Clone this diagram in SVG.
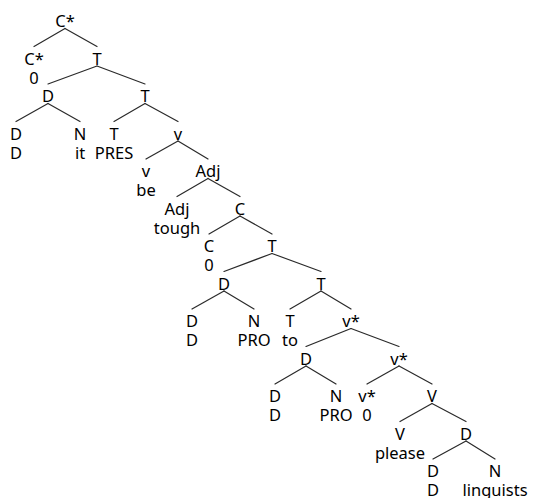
<svg xmlns="http://www.w3.org/2000/svg" width="533" height="498" viewBox="0 0 533 498">
  <style>
    text { font-family: "Noto Sans", "DejaVu Sans", sans-serif; font-size: 16.5px; fill: #000; text-anchor: middle; }
    .edges line { stroke: #2a2a2a; stroke-width: 1.2; stroke-linecap: round; }
  </style>
  <rect width="533" height="498" fill="#fff"/>

  <!-- branches: parent (x, baseline+1.5) to child (x, baseline-18) -->
  <g id="edges" class="edges">
    <line x1="65" y1="28.5" x2="34" y2="46.5"/>
    <line x1="65" y1="28.5" x2="97" y2="46.5"/>
    <line x1="97" y1="66" x2="48" y2="84"/>
    <line x1="97" y1="66" x2="145" y2="84"/>
    <line x1="48" y1="103.5" x2="16" y2="121.5"/>
    <line x1="48" y1="103.5" x2="80" y2="121.5"/>
    <line x1="145" y1="103.5" x2="114" y2="121.5"/>
    <line x1="145" y1="103.5" x2="178" y2="121.5"/>
    <line x1="178" y1="141" x2="146" y2="159"/>
    <line x1="178" y1="141" x2="208" y2="159"/>
    <line x1="208" y1="178.5" x2="177" y2="196.5"/>
    <line x1="208" y1="178.5" x2="240" y2="196.5"/>
    <line x1="240" y1="216" x2="209" y2="234"/>
    <line x1="240" y1="216" x2="272" y2="234"/>
    <line x1="272" y1="253.5" x2="224" y2="271.5"/>
    <line x1="272" y1="253.5" x2="321" y2="271.5"/>
    <line x1="224" y1="291" x2="192" y2="309"/>
    <line x1="224" y1="291" x2="254" y2="309"/>
    <line x1="321" y1="291" x2="290" y2="309"/>
    <line x1="321" y1="291" x2="351" y2="309"/>
    <line x1="351" y1="328.5" x2="306" y2="346.5"/>
    <line x1="351" y1="328.5" x2="399" y2="346.5"/>
    <line x1="306" y1="366" x2="275" y2="384"/>
    <line x1="306" y1="366" x2="336" y2="384"/>
    <line x1="399" y1="366" x2="367" y2="384"/>
    <line x1="399" y1="366" x2="432" y2="384"/>
    <line x1="432" y1="403.5" x2="400" y2="421.5"/>
    <line x1="432" y1="403.5" x2="466" y2="421.5"/>
    <line x1="466" y1="441" x2="433" y2="459"/>
    <line x1="466" y1="441" x2="495" y2="459"/>
  </g>

  <g id="n-cstar-root"><text x="65" y="27">C*</text></g>
  <g id="n-cstar-head"><text x="34" y="64.5">C*</text><text x="34" y="83.5">0</text></g>
  <g id="n-t1"><text x="97" y="64.5">T</text></g>
  <g id="n-d2"><text x="48" y="102">D</text></g>
  <g id="n-t2"><text x="145" y="102">T</text></g>
  <g id="n-d3"><text x="16" y="139.5">D</text><text x="16" y="158.5">D</text></g>
  <g id="n-n3"><text x="80" y="139.5">N</text><text x="80" y="158.5">it</text></g>
  <g id="n-t3"><text x="114" y="139.5">T</text><text x="114" y="158.5">PRES</text></g>
  <g id="n-v3"><text x="178" y="139.5">v</text></g>
  <g id="n-v4"><text x="146" y="177">v</text><text x="146" y="196">be</text></g>
  <g id="n-adj4"><text x="208" y="177">Adj</text></g>
  <g id="n-adj5"><text x="177" y="214.5">Adj</text><text x="177" y="233.5">tough</text></g>
  <g id="n-c5"><text x="240" y="214.5">C</text></g>
  <g id="n-c6"><text x="209" y="252">C</text><text x="209" y="271">0</text></g>
  <g id="n-t6"><text x="272" y="252">T</text></g>
  <g id="n-d7"><text x="224" y="289.5">D</text></g>
  <g id="n-t7"><text x="321" y="289.5">T</text></g>
  <g id="n-d8"><text x="192" y="327">D</text><text x="192" y="346">D</text></g>
  <g id="n-n8"><text x="254" y="327">N</text><text x="254" y="346">PRO</text></g>
  <g id="n-t8"><text x="290" y="327">T</text><text x="290" y="346">to</text></g>
  <g id="n-vstar8"><text x="351" y="327">v*</text></g>
  <g id="n-d9"><text x="306" y="364.5">D</text></g>
  <g id="n-vstar9"><text x="399" y="364.5">v*</text></g>
  <g id="n-d10"><text x="275" y="402">D</text><text x="275" y="421">D</text></g>
  <g id="n-n10"><text x="336" y="402">N</text><text x="336" y="421">PRO</text></g>
  <g id="n-vstar10"><text x="367" y="402">v*</text><text x="367" y="421">0</text></g>
  <g id="n-v10"><text x="432" y="402">V</text></g>
  <g id="n-v11"><text x="400" y="439.5">V</text><text x="400" y="458.5">please</text></g>
  <g id="n-d11"><text x="466" y="439.5">D</text></g>
  <g id="n-d12"><text x="433" y="477">D</text><text x="433" y="495.5">D</text></g>
  <g id="n-n12"><text x="495" y="477">N</text><text x="495" y="495.5">linguists</text></g>
</svg>
